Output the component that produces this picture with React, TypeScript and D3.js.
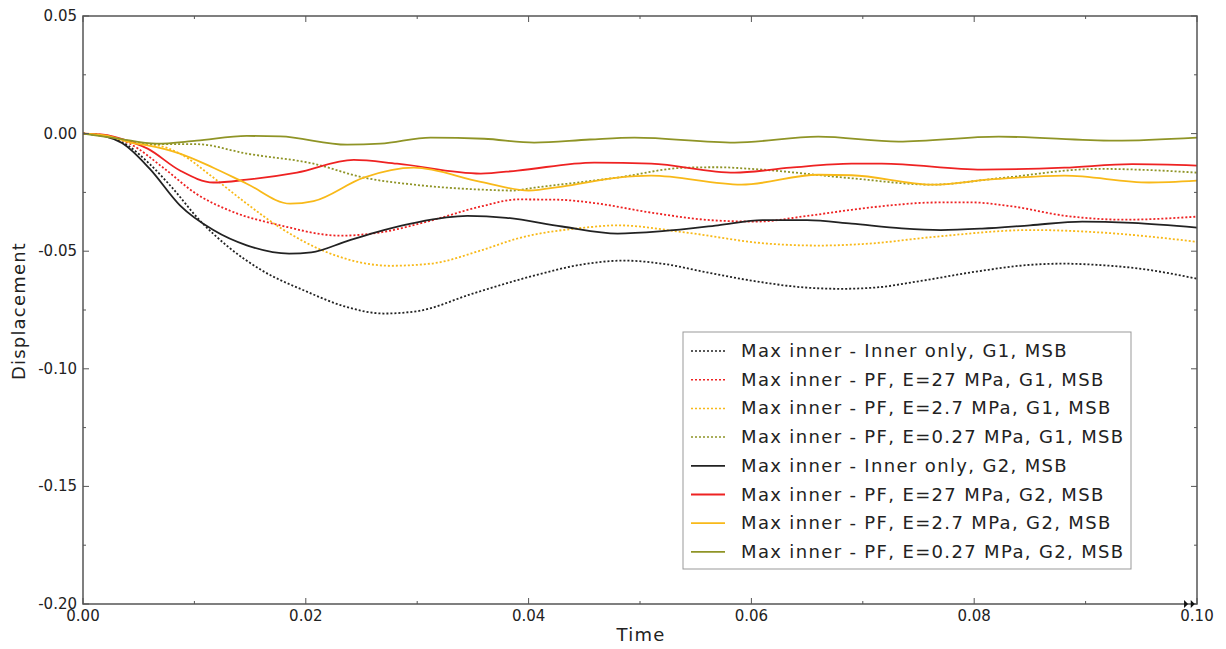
import React from "react";
import * as d3 from "d3";

type Pt = [number, number];

const innerOnlyG1: Pt[] = [[0,0],[0.002,-0.001],[0.004,-0.005],[0.006,-0.013],[0.008,-0.023],[0.0105,-0.037],[0.013,-0.048],[0.016,-0.058],[0.02,-0.067],[0.0235,-0.0735],[0.027,-0.0765],[0.03,-0.0755],[0.035,-0.068],[0.04,-0.061],[0.045,-0.0555],[0.0485,-0.054],[0.052,-0.0553],[0.056,-0.059],[0.06,-0.0625],[0.065,-0.0655],[0.068,-0.066],[0.071,-0.0655],[0.075,-0.0628],[0.08,-0.0588],[0.085,-0.0558],[0.088,-0.0553],[0.091,-0.0558],[0.095,-0.0575],[0.1,-0.0617]];
const pf27G1: Pt[] = [[0,0],[0.002,-0.0008],[0.0042,-0.0043],[0.0072,-0.0145],[0.0102,-0.0257],[0.0132,-0.0328],[0.0177,-0.039],[0.0231,-0.0434],[0.0267,-0.042],[0.0312,-0.037],[0.0357,-0.031],[0.039,-0.028],[0.0425,-0.0281],[0.046,-0.0296],[0.051,-0.0336],[0.057,-0.037],[0.0605,-0.0374],[0.065,-0.035],[0.069,-0.0324],[0.0725,-0.0305],[0.0762,-0.0293],[0.0795,-0.0292],[0.0835,-0.031],[0.0881,-0.0349],[0.0935,-0.0366],[0.1,-0.0353]];
const pf2_7G1: Pt[] = [[0,0],[0.002,-0.0008],[0.0045,-0.004],[0.0067,-0.005],[0.0087,-0.0085],[0.0117,-0.0187],[0.0147,-0.0298],[0.0177,-0.04],[0.0222,-0.051],[0.0276,-0.0562],[0.0312,-0.0553],[0.0357,-0.0497],[0.039,-0.0446],[0.045,-0.04],[0.048,-0.039],[0.054,-0.042],[0.0615,-0.0468],[0.066,-0.0476],[0.0705,-0.0468],[0.0762,-0.044],[0.0852,-0.041],[0.0912,-0.042],[0.1,-0.046]];
const pf0_27G1: Pt[] = [[0,0],[0.002,-0.001],[0.0045,-0.0035],[0.0066,-0.0045],[0.0102,-0.0045],[0.0147,-0.0085],[0.0207,-0.0128],[0.0252,-0.0187],[0.0297,-0.0217],[0.0357,-0.0238],[0.0385,-0.0242],[0.0405,-0.023],[0.048,-0.0187],[0.054,-0.0145],[0.057,-0.0143],[0.06,-0.015],[0.069,-0.019],[0.0762,-0.0217],[0.0822,-0.019],[0.0912,-0.015],[0.0957,-0.0155],[0.1,-0.0166]];
const innerOnlyG2: Pt[] = [[0,0],[0.002,-0.0012],[0.0035,-0.004],[0.006,-0.015],[0.0087,-0.0305],[0.0117,-0.041],[0.0147,-0.0475],[0.0185,-0.051],[0.0205,-0.0505],[0.0237,-0.0457],[0.027,-0.041],[0.03,-0.0377],[0.0345,-0.035],[0.038,-0.0358],[0.043,-0.0395],[0.048,-0.0425],[0.052,-0.0415],[0.057,-0.039],[0.061,-0.0368],[0.065,-0.0368],[0.069,-0.0383],[0.0735,-0.0403],[0.077,-0.041],[0.0807,-0.0404],[0.085,-0.039],[0.0897,-0.0374],[0.0942,-0.038],[0.1,-0.04]];
const pf27G2: Pt[] = [[0,0],[0.002,-0.0005],[0.0033,-0.002],[0.0058,-0.0064],[0.0087,-0.0157],[0.0117,-0.0208],[0.0147,-0.0196],[0.0192,-0.0166],[0.0243,-0.0112],[0.0282,-0.0128],[0.0357,-0.017],[0.039,-0.0157],[0.0459,-0.0123],[0.051,-0.0128],[0.0585,-0.0166],[0.0635,-0.0145],[0.069,-0.0128],[0.0717,-0.0128],[0.0807,-0.0153],[0.0881,-0.0145],[0.0942,-0.013],[0.1,-0.0136]];
const pf2_7G2: Pt[] = [[0,0],[0.002,-0.0008],[0.0045,-0.004],[0.0058,-0.005],[0.0087,-0.0085],[0.0117,-0.0145],[0.0147,-0.0213],[0.0186,-0.0298],[0.0207,-0.0287],[0.0252,-0.0187],[0.0297,-0.0145],[0.0357,-0.0205],[0.04,-0.0242],[0.043,-0.0225],[0.048,-0.0187],[0.051,-0.0179],[0.0591,-0.0217],[0.066,-0.0175],[0.069,-0.0177],[0.0762,-0.0217],[0.0815,-0.0195],[0.0881,-0.0179],[0.0957,-0.0208],[0.1,-0.02]];
const pf0_27G2: Pt[] = [[0,0],[0.003,-0.002],[0.0066,-0.0043],[0.0102,-0.003],[0.0147,-0.001],[0.0177,-0.0012],[0.0237,-0.0047],[0.0267,-0.0043],[0.0312,-0.0017],[0.036,-0.0022],[0.0405,-0.0038],[0.0455,-0.0025],[0.0495,-0.0017],[0.0585,-0.0038],[0.066,-0.0013],[0.0732,-0.0034],[0.0822,-0.0013],[0.0926,-0.003],[0.1,-0.0017]];

const seriesLabels = [
  "Max inner - Inner only, G1, MSB",
  "Max inner - PF, E=27 MPa, G1, MSB",
  "Max inner - PF, E=2.7 MPa, G1, MSB",
  "Max inner - PF, E=0.27 MPa, G1, MSB",
  "Max inner - Inner only, G2, MSB",
  "Max inner - PF, E=27 MPa, G2, MSB",
  "Max inner - PF, E=2.7 MPa, G2, MSB",
  "Max inner - PF, E=0.27 MPa, G2, MSB",
];
const seriesData = [innerOnlyG1, pf27G1, pf2_7G1, pf0_27G1, innerOnlyG2, pf27G2, pf2_7G2, pf0_27G2];
const seriesColors = ["#222222", "#ee2222", "#f8b919", "#8f9426", "#222222", "#ee2222", "#f8b919", "#8f9426"];
const seriesDotted = [true, true, true, true, false, false, false, false];

const xTicks = [0, 0.02, 0.04, 0.06, 0.08, 0.1];
const xMinor = [0.01, 0.03, 0.05, 0.07, 0.09];
const yTicks = [0.05, 0, -0.05, -0.1, -0.15, -0.2];
const yMinor = [0.025, -0.025, -0.075, -0.125, -0.175];

const W = 1226, H = 649;
const L = 83, R = 1197, T = 16, B = 604;
const FONT = "'DejaVu Sans', Verdana, sans-serif";

export default function App() {
  const x = d3.scaleLinear().domain([0, 0.1]).range([L, R]);
  const y = d3.scaleLinear().domain([-0.2, 0.05]).range([B, T]);
  const line = d3.line<Pt>().x(d => x(d[0])).y(d => y(d[1])).curve(d3.curveMonotoneX);
  const axisColor = "#555";
  const legX = 683, legY = 332, legW = 448, legH = 237;
  const rowH = 28.7;
  return (
    <svg width={W} height={H} style={{ position: "absolute", left: 0, top: 0 }}>
      <rect x={0} y={0} width={W} height={H} fill="#fff" />
      <defs>
        <clipPath id="plotclip"><rect x={L} y={T} width={R - L} height={B - T} /></clipPath>
      </defs>
      <g clipPath="url(#plotclip)">
        {seriesData.map((d, i) => (
          <path key={i} d={line(d) || ""} fill="none" stroke={seriesColors[i]}
            strokeWidth={1.8}
            strokeDasharray={seriesDotted[i] ? "2,2" : undefined} />
        ))}
      </g>
      <rect x={L} y={T} width={R - L} height={B - T} fill="none" stroke={axisColor} strokeWidth={1.5} />
      {xTicks.map(t => (
        <g key={"xt" + t}>
          <line x1={x(t)} x2={x(t)} y1={B} y2={B - 6} stroke={axisColor} />
          <line x1={x(t)} x2={x(t)} y1={T} y2={T + 6} stroke={axisColor} />
          <text x={x(t)} y={B + 17} textAnchor="middle" fontFamily={FONT} fontSize={15} fill="#222">{t.toFixed(2)}</text>
        </g>
      ))}
      {xMinor.map(t => (
        <g key={"xm" + t}>
          <line x1={x(t)} x2={x(t)} y1={B} y2={B - 3} stroke={axisColor} />
          <line x1={x(t)} x2={x(t)} y1={T} y2={T + 3} stroke={axisColor} />
        </g>
      ))}
      {yTicks.map(v => (
        <g key={"yt" + v}>
          <line x1={L} x2={L + 6} y1={y(v)} y2={y(v)} stroke={axisColor} />
          <line x1={R} x2={R - 6} y1={y(v)} y2={y(v)} stroke={axisColor} />
          <text x={L - 6} y={y(v) + 5} textAnchor="end" fontFamily={FONT} fontSize={15} fill="#222">{v.toFixed(2)}</text>
        </g>
      ))}
      {yMinor.map(v => (
        <g key={"ym" + v}>
          <line x1={L} x2={L + 3} y1={y(v)} y2={y(v)} stroke={axisColor} />
          <line x1={R} x2={R - 3} y1={y(v)} y2={y(v)} stroke={axisColor} />
        </g>
      ))}
      {[0.0992, 0.0998].map(t => (
        <path key={"mk" + t} d={`M${x(t) - 4},${B - 4} L${x(t)},${B} L${x(t) - 4},${B + 4} Z`} fill="#111" />
      ))}
      <text x={(L + R) / 2 + 1} y={B + 37} textAnchor="middle" fontFamily={FONT} fontSize={18} letterSpacing={1.2} fill="#222">Time</text>
      <text transform={`translate(25,${(T + B) / 2 + 1}) rotate(-90)`} textAnchor="middle" fontFamily={FONT} fontSize={18} letterSpacing={1.2} fill="#222">Displacement</text>
      <rect x={legX} y={legY} width={legW} height={legH} fill="#fff" stroke="#999" strokeWidth={1} />
      {seriesLabels.map((s, i) => {
        const cy = legY + 19 + i * rowH;
        return (
          <g key={"lg" + i}>
            <line x1={legX + 8} x2={legX + 42} y1={cy} y2={cy} stroke={seriesColors[i]}
              strokeWidth={seriesDotted[i] ? 1.5 : 1.8} strokeDasharray={seriesDotted[i] ? "2,2" : undefined} />
            <text x={legX + 58} y={cy + 6} fontFamily={FONT} fontSize={18} letterSpacing={1.35} fill="#222">{s}</text>
          </g>
        );
      })}
    </svg>
  );
}
